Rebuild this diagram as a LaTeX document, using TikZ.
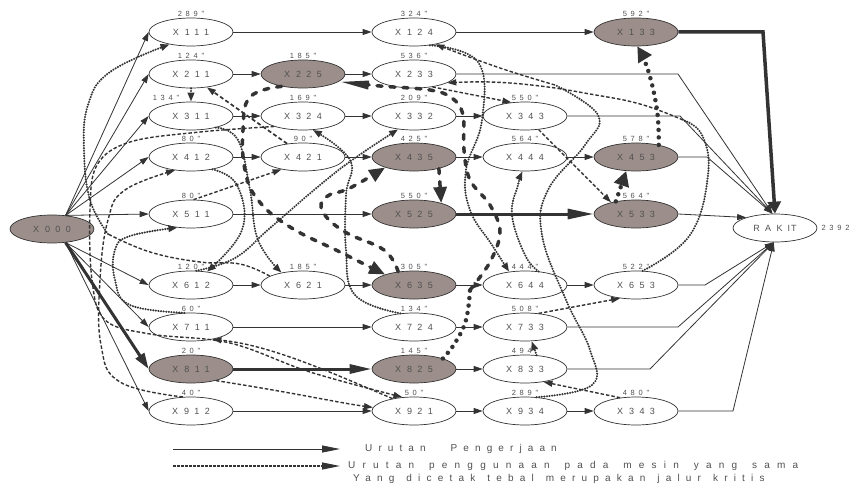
\documentclass[tikz,border=0pt]{standalone}
\usepackage{fontspec}
\setmainfont{Liberation Sans}
\newfontfamily\opfont[LetterSpace=60]{Liberation Sans}
\newfontfamily\tmfont[LetterSpace=50]{Liberation Sans}
\newfontfamily\lgfonta[LetterSpace=61]{Liberation Sans}
\newfontfamily\lgfontb[LetterSpace=72]{Liberation Sans}
\newfontfamily\lgfontc[LetterSpace=62]{Liberation Sans}
\usetikzlibrary{shapes.geometric,arrows.meta,positioning}
\definecolor{opfill}{HTML}{9C8F8B}
\definecolor{linegray}{HTML}{333333}
\definecolor{txtgray}{HTML}{505050}
\newcommand\opx[1]{X\kern6pt #1}
\newcommand\wsp[1]{\kern#1\relax}

\begin{document}
\begin{tikzpicture}[x=1pt,y=-1pt]
        \tikzstyle{op}=[ellipse, draw=linegray, line width=0.7pt, minimum width=84pt, minimum height=28pt, inner sep=0pt, text=txtgray, font=\opfont\fontsize{9}{9}\selectfont];
        \tikzstyle{crit}=[op, fill=opfill];
        \tikzstyle{tlabel}=[text=txtgray, inner sep=1pt, label distance=0pt, font=\tmfont\fontsize{7.5}{7.5}\selectfont];
        \tikzstyle{lgtext}=[anchor=west, inner sep=0pt, text=txtgray];
        \tikzstyle{seq}=[draw=linegray, line width=0.8pt, -{Triangle[length=9pt,width=6pt]}];
        \tikzstyle{cseq}=[draw=linegray, line width=3pt, -{Triangle[length=26pt,width=10pt]}];
        \tikzstyle{mdash}=[draw=linegray, line width=1.4pt, dash pattern=on 3.5pt off 2pt, -{Triangle[length=9pt,width=6pt]}];
        \tikzstyle{mdot}=[draw=linegray, line width=2.3pt, line cap=round, dash pattern=on 0pt off 2.6pt, -{Triangle[length=9pt,width=6.5pt]}];
        \tikzstyle{cdash}=[draw=linegray, line width=3.5pt, line cap=round, dash pattern=on 5pt off 8pt, -{Triangle[length=16pt,width=13pt]}];
        \tikzstyle{cdot}=[draw=linegray, line width=4.5pt, line cap=round, dash pattern=on 0pt off 7.5pt, -{Triangle[length=15pt,width=15pt]}];
        \useasboundingbox (0,0) rectangle (856,487);
        % operations
        \node[crit] (X000) at (52,229) {\opx{000}};
        \node[op] (X111) at (191,32) [label={[tlabel]above:{289"}}] {\opx{111}};
        \node[op] (X211) at (191,74) [label={[tlabel]above:{124"}}] {\opx{211}};
        \node[op] (X311) at (191,116) [label={[tlabel,xshift=-25pt]above:{134"}}] {\opx{311}};
        \node[op] (X412) at (191,157) [label={[tlabel]above:{80"}}] {\opx{412}};
        \node[op] (X511) at (191,214) [label={[tlabel]above:{80"}}] {\opx{511}};
        \node[op] (X612) at (191,285) [label={[tlabel]above:{120"}}] {\opx{612}};
        \node[op] (X711) at (191,327) [label={[tlabel]above:{60"}}] {\opx{711}};
        \node[crit] (X811) at (191,369) [label={[tlabel]above:{20"}}] {\opx{811}};
        \node[op] (X912) at (191,411) [label={[tlabel]above:{40"}}] {\opx{912}};
        \node[crit] (X225) at (303,74) [label={[tlabel]above:{185"}}] {\opx{225}};
        \node[op] (X324) at (303,116) [label={[tlabel]above:{169"}}] {\opx{324}};
        \node[op] (X421) at (303,157) [label={[tlabel]above:{90"}}] {\opx{421}};
        \node[op] (X621) at (303,285) [label={[tlabel]above:{185"}}] {\opx{621}};
        \node[op] (X124) at (414,32) [label={[tlabel]above:{324"}}] {\opx{124}};
        \node[op] (X233) at (414,74) [label={[tlabel]above:{536"}}] {\opx{233}};
        \node[op] (X332) at (414,116) [label={[tlabel]above:{209"}}] {\opx{332}};
        \node[crit] (X435) at (414,157) [label={[tlabel]above:{425"}}] {\opx{435}};
        \node[crit] (X525) at (414,214) [label={[tlabel]above:{550"}}] {\opx{525}};
        \node[crit] (X635) at (414,285) [label={[tlabel]above:{305"}}] {\opx{635}};
        \node[op] (X724) at (414,327) [label={[tlabel]above:{134"}}] {\opx{724}};
        \node[crit] (X825) at (414,369) [label={[tlabel]above:{145"}}] {\opx{825}};
        \node[op] (X921) at (414,411) [label={[tlabel]above:{50"}}] {\opx{921}};
        \node[op] (X343) at (525,116) [label={[tlabel]above:{550"}}] {\opx{343}};
        \node[op] (X444) at (525,157) [label={[tlabel]above:{564"}}] {\opx{444}};
        \node[op] (X644) at (525,285) [label={[tlabel]above:{444"}}] {\opx{644}};
        \node[op] (X733) at (525,327) [label={[tlabel]above:{508"}}] {\opx{733}};
        \node[op] (X833) at (525,369) [label={[tlabel]above:{494"}}] {\opx{833}};
        \node[op] (X934) at (525,411) [label={[tlabel]above:{289"}}] {\opx{934}};
        \node[crit] (X133) at (636,32) [label={[tlabel]above:{592"}}] {\opx{133}};
        \node[crit] (X453) at (636,157) [label={[tlabel]above:{578"}}] {\opx{453}};
        \node[crit] (X533) at (636,214) [label={[tlabel]above:{564"}}] {\opx{533}};
        \node[op] (X653) at (636,285) [label={[tlabel]above:{522"}}] {\opx{653}};
        \node[op] (X943) at (636,411) [label={[tlabel]above:{480"}}] {\opx{343}};
        \node[op] (RAKIT) at (775,228) [label={[tlabel,label distance=3pt]right:{2392}}] {RAK\kern5pt I\kern1pt T};
        % urutan pengerjaan
        \draw[seq] (X000.45) -- (X111.west);
        \draw[seq] (X000.45) -- (X211.west);
        \draw[seq] (X000.45) -- (X311.west);
        \draw[seq] (X000.45) -- (X412.west);
        \draw[seq] (X000.45) -- (X511.west);
        \draw[seq] (X000.-45) -- (X612.west);
        \draw[seq] (X000.-45) -- (X711.west);
        \draw[cseq, -{Triangle[length=16pt,width=10pt]}] (X000.-45) -- (X811.west);
        \draw[seq] (X000.-45) -- (X912.west);
        \draw[seq] (X111) -- (X124);
        \draw[seq] (X124) -- (X133);
        \draw[cseq, line width=3.5pt, -{Triangle[length=12pt,width=13pt]}] (X133.east) -- (763,32) -- (RAKIT.north);
        \draw[seq] (X211) -- (X225);
        \draw[seq] (X225) -- (X233);
        \draw[seq] (X233.east) -- (678,74) -- (RAKIT.100);
        \draw[seq] (X311) -- (X324);
        \draw[seq] (X324) -- (X332);
        \draw[seq] (X332) -- (X343);
        \draw[seq] (X343.east) -- (680,116) -- (RAKIT.100);
        \draw[seq] (X412) -- (X421);
        \draw[seq] (X421) -- (X435);
        \draw[seq] (X435) -- (X444);
        \draw[seq] (X444) -- (X453);
        \draw[seq] (X453.east) -- (707,157) -- (RAKIT.100);
        \draw[seq] (X511) -- (X525);
        \draw[cseq] (X525) -- (X533);
        \draw[seq] (X533.east) -- (RAKIT.160);
        \draw[seq] (X612) -- (X621);
        \draw[seq] (X621) -- (X635);
        \draw[seq] (X635) -- (X644);
        \draw[seq] (X644) -- (X653);
        \draw[seq] (X653.east) -- (705,285) -- (RAKIT.-95);
        \draw[seq] (X711) -- (X724);
        \draw[seq] (X724) -- (X733);
        \draw[seq] (X733.east) -- (678,327) -- (RAKIT.-95);
        \draw[cseq, -{Triangle[length=22pt,width=9pt]}] (X811) -- (X825);
        \draw[seq] (X825) -- (X833);
        \draw[seq] (X833.east) -- (650,369) -- (RAKIT.-95);
        \draw[seq] (X912) -- (X921);
        \draw[seq] (X921) -- (X934);
        \draw[seq] (X934) -- (X943);
        \draw[seq] (X943.east) -- (733,411) -- (RAKIT.-95);
        % mesin 1
        \draw[mdash] (X811.-25) .. controls (290,392) and (340,403) .. (X921.175);
        \draw[mdash] (X921.150) .. controls (330,372) and (270,345) .. (X711.-30);
        \draw[mdot] plot[smooth, tension=0.7] coordinates {(X711.115) (130,305) (115,280) (115,250) (130,236) (X511.-135)};
        \draw[mdash] (X511.80) -- (X421.-150);
        \draw[mdash, line width=1.7pt, dash pattern=on 4pt off 2.5pt] (X421.140) -- (X211.-40);
        \draw[mdot] (X211.-90) -- (X311.90);
        \draw[mdot] plot[smooth, tension=0.7] coordinates {(X311.-25) (238,140) (250,190) (258,240) (X621.150)};
        \coordinate (j621) at (108,234);
        \draw[mdash, -] plot[smooth, tension=0.7] coordinates {(X621.165) (240,264) (200,262) (150,252) (j621)};
        \draw[mdot] plot[smooth, tension=0.7] coordinates {(j621) (90,200) (84,150) (88,105) (110,72) (X111.-150)};
        % mesin 2
        \draw[mdash] plot[smooth, tension=0.7] coordinates {(X912.120) (120,382) (101,345) (100,280) (108,220) (125,190) (X412.-140)};
        \draw[mdot] plot[smooth, tension=0.7] coordinates {(X412.-30) (237,185) (242,230) (X612.40)};
        \draw[mdot] plot[smooth, tension=0.7] coordinates {(X612.70) (235,258) (270,228) (320,185) (355,158) (X332.-140)};
        % mesin 3
        \draw[mdash] (X943.140) -- (X833.-35);
        \draw[mdot] (X833.50) -- (X733.-65);
        \draw[mdash] (X733.45) -- (X653.-140);
        \coordinate (j653) at (683,120);
        \draw[mdot, -] plot[smooth, tension=0.7] coordinates {(X653.65) (690,235) (708,175) (702,135) (j653)};
        \draw[mdash] plot[smooth, tension=0.7] coordinates {(j653) (640,104) (590,94) (540,86) (490,82) (X233.-15)};
        \draw[mdash] (X233.-35) -- (X343.135);
        \draw[mdash] (X343.-45) -- (X533.155);
        % mesin 4
        \draw[mdot] plot[smooth, tension=0.7] coordinates {(X724.135) (355,295) (346,250) (346,195) (350,160) (X324.-55)};
        \draw[mdash] plot[smooth, tension=0.6] coordinates {(X324.-160) (200,132) (130,142) (97,165) (90,210) (92,280) (105,320) (150,334) (230,343) (310,372) (X921.130)};
        \coordinate (j934) at (555,85);
        \draw[mdot, -] plot[smooth, tension=0.7] coordinates {(X934.50) (592,385) (590,350) (566,300) (542,235) (548,190) (585,145) (598,115) (j934)};
        \draw[mdash] plot[smooth, tension=0.7] coordinates {(j934) (500,68) (X124.-30)};
        \draw[mdot] plot[smooth, tension=0.7] coordinates {(X124.-40) (478,62) (482,120) (466,170) (470,210) (492,245) (X644.140)};
        \draw[mdot] plot[smooth, tension=0.7] coordinates {(X644.45) (525,255) (512,215) (518,185) (X444.-100)};
        % jalur kritis
        \coordinate (j825) at (470,290);
        \draw[cdot, -] plot[smooth, tension=0.7] coordinates {(X825.20) (455,343) (466,320) (j825)};
        \draw[cdash, -{Triangle[length=30pt,width=8pt]}] plot[smooth, tension=0.6] coordinates {(j825) (490,262) (500,232) (490,205) (470,180) (464,150) (463,115) (452,98) (430,90) (380,86) (X225.-12)};
        \draw[cdash] plot[smooth, tension=0.7] coordinates {(X225.-150) (250,97) (243,130) (245,170) (258,200) (290,227) (340,252) (X635.160)};
        \draw[cdash] plot[smooth, tension=0.7] coordinates {(X635.140) (384,250) (345,232) (323,212) (326,197) (350,188) (X435.-160)};
        \draw[cdash] (X435.-25) -- (X525.22);
        \draw[cdot] (X533.148) -- (X453.-125);
        \draw[cdot] plot[smooth, tension=0.7] coordinates {(X453.28) (657,110) (648,70) (X133.-85)};
        % keterangan
        \coordinate (lgA) at (173,449);
        \coordinate (lgB) at (340,449);
        \coordinate (lgC) at (173,466);
        \coordinate (lgD) at (340,466);
        \draw[seq, -{Triangle[length=18pt,width=7pt]}] (lgA) -- (lgB);
        \draw[mdash, line width=1.1pt, dash pattern=on 2.5pt off 1.5pt, -{Triangle[length=18pt,width=7pt]}] (lgC) -- (lgD);
        \node[lgtext, font=\lgfonta\fontsize{10}{10}\selectfont] (lg1) at (365,449) {Urutan\wsp{25pt}Pengerjaan};
        \node[lgtext, font=\lgfontb\fontsize{10}{10}\selectfont] (lg2) at (348,466) {Urutan\wsp{15pt}penggunaan\wsp{15pt}pada\wsp{15pt}mesin\wsp{15pt}yang\wsp{15pt}sama};
        \node[lgtext, font=\lgfontc\fontsize{10}{10}\selectfont] (lg3) at (353,479) {Yang\wsp{12pt}dicetak\wsp{12pt}tebal\wsp{12pt}merupakan\wsp{12pt}jalur\wsp{12pt}kritis};
    \end{tikzpicture}
\end{document}
